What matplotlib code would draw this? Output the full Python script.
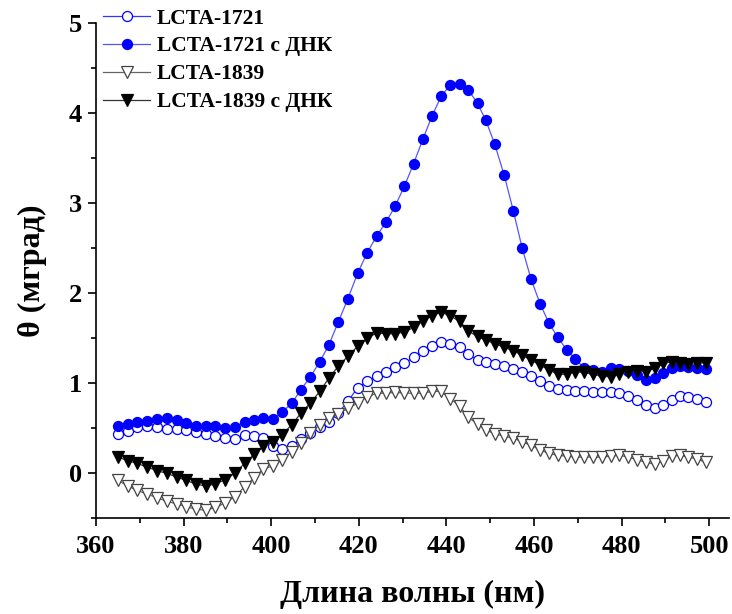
import matplotlib
matplotlib.use("Agg")
import matplotlib.pyplot as plt
from matplotlib.ticker import MultipleLocator

wavelength = [365.1, 367.2, 369.4, 371.6, 373.9, 376.1, 378.4, 380.6, 382.8, 385.0,
              387.2, 389.5, 391.7, 393.9, 396.1, 398.2, 400.3, 402.5, 404.7, 406.8,
              408.9, 411.1, 413.2, 415.3, 417.5, 419.7, 421.9, 424.1, 426.2, 428.3,
              430.4, 432.5, 434.6, 436.7, 438.8, 440.8, 443.0, 445.0, 447.1, 449.0,
              451.0, 453.2, 455.3, 457.3, 459.3, 461.4, 463.4, 465.4, 467.5, 469.4,
              471.4, 473.4, 475.5, 477.5, 479.5, 481.5, 483.6, 485.6, 487.6, 489.5,
              491.4, 493.3, 495.2, 497.2, 499.2]

lcta1721 = [0.44, 0.47, 0.51, 0.52, 0.51, 0.49, 0.49, 0.48, 0.46, 0.44,
            0.41, 0.39, 0.38, 0.42, 0.41, 0.39, 0.30, 0.27, 0.30, 0.38,
            0.45, 0.51, 0.57, 0.67, 0.80, 0.95, 1.02, 1.08, 1.12, 1.18,
            1.22, 1.29, 1.36, 1.41, 1.46, 1.44, 1.40, 1.32, 1.26, 1.24,
            1.21, 1.19, 1.16, 1.13, 1.08, 1.03, 0.97, 0.94, 0.93, 0.91,
            0.91, 0.90, 0.90, 0.90, 0.89, 0.86, 0.81, 0.76, 0.72, 0.76,
            0.81, 0.86, 0.85, 0.83, 0.79]

lcta1721_dna = [0.53, 0.55, 0.57, 0.58, 0.60, 0.61, 0.59, 0.56, 0.53, 0.53,
                0.52, 0.50, 0.51, 0.57, 0.59, 0.61, 0.60, 0.68, 0.78, 0.93,
                1.07, 1.24, 1.43, 1.68, 1.94, 2.22, 2.45, 2.64, 2.79, 2.97,
                3.19, 3.44, 3.71, 3.97, 4.19, 4.31, 4.33, 4.26, 4.11, 3.92,
                3.66, 3.31, 2.91, 2.50, 2.16, 1.88, 1.67, 1.51, 1.37, 1.27,
                1.17, 1.15, 1.13, 1.17, 1.16, 1.14, 1.09, 1.04, 1.06, 1.11,
                1.17, 1.19, 1.18, 1.17, 1.16]

lcta1839 = [-0.08, -0.14, -0.19, -0.23, -0.27, -0.31, -0.34, -0.37, -0.40, -0.41,
            -0.38, -0.33, -0.26, -0.15, -0.05, 0.05, 0.08, 0.15, 0.24, 0.34,
            0.45, 0.54, 0.61, 0.66, 0.72, 0.78, 0.85, 0.89, 0.89, 0.90,
            0.89, 0.89, 0.89, 0.91, 0.91, 0.83, 0.75, 0.62, 0.55, 0.48,
            0.44, 0.41, 0.39, 0.35, 0.31, 0.26, 0.22, 0.20, 0.19, 0.18,
            0.18, 0.18, 0.18, 0.19, 0.20, 0.18, 0.15, 0.12, 0.10, 0.14,
            0.19, 0.20, 0.18, 0.16, 0.12]

lcta1839_dna = [0.18, 0.14, 0.11, 0.07, 0.03, 0.00, -0.04, -0.08, -0.12, -0.14,
                -0.12, -0.07, 0.00, 0.11, 0.21, 0.30, 0.35, 0.43, 0.54, 0.67,
                0.78, 0.91, 1.06, 1.19, 1.30, 1.41, 1.50, 1.56, 1.55, 1.55,
                1.57, 1.62, 1.69, 1.75, 1.79, 1.75, 1.69, 1.58, 1.52, 1.48,
                1.44, 1.40, 1.36, 1.31, 1.26, 1.20, 1.15, 1.10, 1.10, 1.13,
                1.12, 1.10, 1.08, 1.07, 1.10, 1.13, 1.14, 1.13, 1.17, 1.22,
                1.24, 1.23, 1.21, 1.22, 1.23]

labels = ["LCTA-1721", "LCTA-1721 с ДНК", "LCTA-1839", "LCTA-1839 с ДНК"]

plt.rcParams['font.family'] = ['Liberation Serif', 'DejaVu Serif']
plt.rcParams['font.weight'] = 'bold'

fig = plt.figure(figsize=(7.32, 6.14), dpi=100)
ax = fig.add_axes([96/732, 1-518.3/614, (729-96)/732, (518.3-23.3)/614])

ax.plot(wavelength, lcta1721, color='#3535ff', lw=0.9, marker='o', ms=7.2,
        mfc='white', mec='#0000ff', mew=0.9, label=labels[0], zorder=3)
ax.plot(wavelength, lcta1721_dna, color='#5555ff', lw=0.9, marker='o', ms=7.2,
        mfc='#0000ff', mec='#0000ff', mew=0.9, label=labels[1], zorder=4)
ax.plot(wavelength, lcta1839, color='#666666', lw=0.9, marker='v', ms=8,
        mfc='white', mec='#444444', mew=0.9, label=labels[2], zorder=3)
ax.plot(wavelength, lcta1839_dna, color='#333333', lw=0.9, marker='v', ms=8,
        mfc='black', mec='black', mew=0.9, label=labels[3], zorder=4)

ax.set_xlim(360, 504.5)
ax.set_ylim(-0.5, 5)
ax.xaxis.set_major_locator(MultipleLocator(20))
ax.xaxis.set_minor_locator(MultipleLocator(10))
ax.yaxis.set_major_locator(MultipleLocator(1))
ax.yaxis.set_minor_locator(MultipleLocator(0.5))
ax.spines['top'].set_visible(False)
ax.spines['right'].set_visible(False)
for s in ('left', 'bottom'):
    ax.spines[s].set_linewidth(1.2)
ax.tick_params(which='major', direction='out', length=6, width=1.2, labelsize=19)
ax.tick_params(axis='x', which='major', pad=6)
ax.tick_params(axis='y', which='major', pad=4)
ax.tick_params(which='minor', direction='out', length=3.5, width=1.2)
for t in ax.get_xticklabels() + ax.get_yticklabels():
    t.set_fontweight('bold')

ax.set_xlabel("Длина волны (нм)", fontsize=23, fontweight='bold', labelpad=16)
ax.set_ylabel("θ (мград)", fontsize=23, fontweight='bold', labelpad=16)

leg = ax.legend(loc='upper left', bbox_to_anchor=(103/732, 0.986),
                bbox_transform=fig.transFigure, frameon=False, fontsize=15.5,
                numpoints=1, handlelength=2.2, handletextpad=0.3,
                labelspacing=0.36, borderpad=0, borderaxespad=0)
for t in leg.get_texts():
    t.set_fontweight('bold')

fig.savefig("out.png", dpi=100)
